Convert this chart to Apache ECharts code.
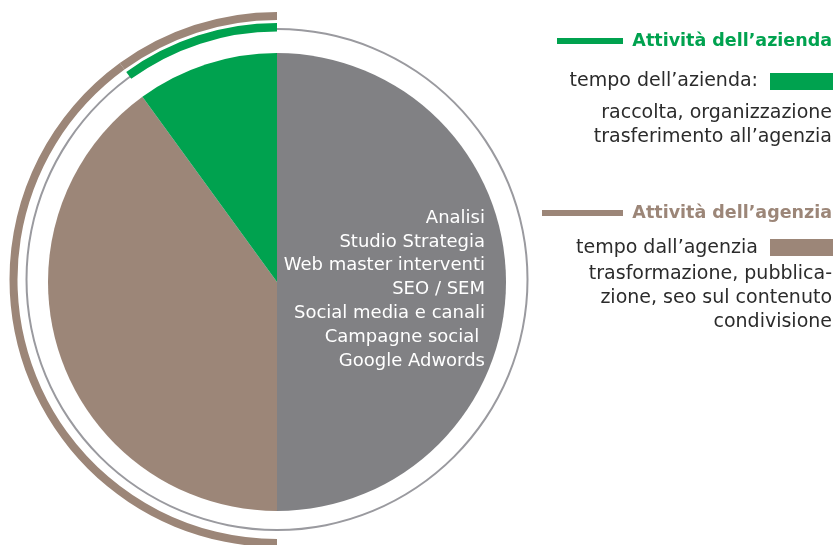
<!DOCTYPE html>
<html><head><meta charset="utf-8">
<script src="https://cdn.jsdelivr.net/npm/echarts@6/dist/echarts.min.js"></script>
<style>html,body{margin:0;padding:0;background:#fff}#c{width:836px;height:545px}</style>
</head><body><div id="c"></div>
<script>
const categories = ['Agenzia (servizi)', 'Attività dell\u2019agenzia', 'Attività dell\u2019azienda'];
const values = [50, 40, 10];
const colors = ['#818184', '#9c8678', '#00a24f'];
const servicesLines = ['Analisi', 'Studio Strategia', 'Web master interventi', 'SEO / SEM', 'Social media e canali', 'Campagne social ', 'Google Adwords'];
const legendTitles = ['Attività dell\u2019azienda', 'Attività dell\u2019agenzia'];
const legendTimes = ['tempo dell\u2019azienda:', 'tempo dall\u2019agenzia'];
const legendDescs = [['raccolta, organizzazione', 'trasferimento all\u2019agenzia'], ['trasformazione, pubblica-', 'zione, seo sul contenuto', 'condivisione']];

const chart = echarts.init(document.getElementById('c'));
const FONT = '"DejaVu Sans"';
const C = [277, 282];
const CR = [277, 279.5];
const base = {type: 'pie', startAngle: 90, clockwise: true, silent: true,
  label: {show: false}, labelLine: {show: false}, emphasis: {disabled: true}, animation: false};

const mainData = categories.map((n, i) => ({name: n, value: values[i], itemStyle: {color: colors[i]}}));
const greenArc = categories.map((n, i) => ({name: n, value: values[i], itemStyle: {color: i === 2 ? colors[2] : 'rgba(0,0,0,0)'}}));
const brownArc = categories.map((n, i) => ({name: n, value: values[i], itemStyle: {color: i === 0 ? 'rgba(0,0,0,0)' : colors[1]}}));

const graphics = [];
servicesLines.forEach((t, i) => {
  graphics.push({type: 'text', z: 100, x: 485, y: 218 + i * 23.9,
    style: {text: t, fill: '#fff', font: '18px ' + FONT, textAlign: 'right', textVerticalAlign: 'middle'}});
});
const blocks = [
  {y: 41, barX: 557, color: colors[2], timeY: 81, rectY: 73, descY: 113},
  {y: 213, barX: 542, color: colors[1], timeY: 248, rectY: 239, descY: 274}
];
blocks.forEach((b, k) => {
  graphics.push({type: 'rect', z: 100, shape: {x: b.barX, y: b.y - 3, width: 623 - b.barX, height: 6}, style: {fill: b.color}});
  graphics.push({type: 'text', z: 100, x: 832, y: b.y, style: {text: legendTitles[k], fill: b.color, font: 'bold 17.5px ' + FONT, textAlign: 'right', textVerticalAlign: 'middle'}});
  graphics.push({type: 'text', z: 100, x: 758, y: b.timeY, style: {text: legendTimes[k], fill: '#2b2b2b', font: '19px ' + FONT, textAlign: 'right', textVerticalAlign: 'middle'}});
  graphics.push({type: 'rect', z: 100, shape: {x: 770, y: b.rectY, width: 63, height: 17}, style: {fill: b.color}});
  legendDescs[k].forEach((t, j) => {
    graphics.push({type: 'text', z: 100, x: 832, y: b.descY + j * 23.8, style: {text: t, fill: '#2b2b2b', font: '19px ' + FONT, textAlign: 'right', textVerticalAlign: 'middle'}});
  });
});

chart.setOption({
  backgroundColor: '#fff',
  animation: false,
  series: [
    Object.assign({}, base, {name: 'main', center: C, radius: [0, 229], data: mainData}),
    Object.assign({}, base, {name: 'ring', center: CR, radius: [249.5, 251.5], data: [{name: 'ring', value: values.reduce((a, b) => a + b, 0), itemStyle: {color: '#9a9a9f'}}]}),
    Object.assign({}, base, {name: 'greenArc', center: CR, radius: [248, 256.5], data: greenArc}),
    Object.assign({}, base, {name: 'brownArc', center: CR, radius: [259.5, 267.5], data: brownArc})
  ],
  graphic: graphics
});
</script></body></html>
